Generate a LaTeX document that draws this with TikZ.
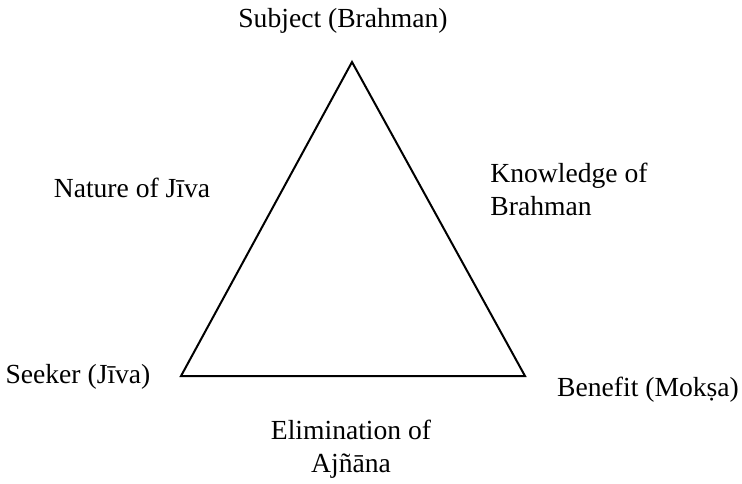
\documentclass[tikz,border=0pt]{standalone}
\usepackage{fontspec}
\setmainfont{Liberation Serif}
\usetikzlibrary{positioning}
\tikzset{
  lbl/.style={inner sep=0pt,align=center,font=\fontsize{13.8}{16.5}\selectfont},
  side/.style={draw,line width=1pt,line join=miter}
}

\begin{document}
\begin{tikzpicture}[x=0.5pt,y=-0.5pt]
\useasboundingbox (0,0) rectangle (742,483);

\coordinate (top) at (352,62);
\coordinate (bl) at (181,376);
\coordinate (br) at (525,376);

\draw[side] (top) -- (bl) -- (br) -- cycle;

\node[lbl] (subj) at (343,21) {Subject (Brahman)};
\node[lbl] (seeker) at (78,377) {Seeker (Jīva)};
\node[lbl] (benefit) at (648,390) {Benefit (Mokṣa)};

\node[lbl] (nature) at (132,188) {Nature of Jīva};
\node[lbl, align=left, anchor=west] (knowl) at (490,189) {Knowledge of\\Brahman};
\node[lbl] (elim) at (351,449) {Elimination of\\Ajñāna};

\end{tikzpicture}
\end{document}
